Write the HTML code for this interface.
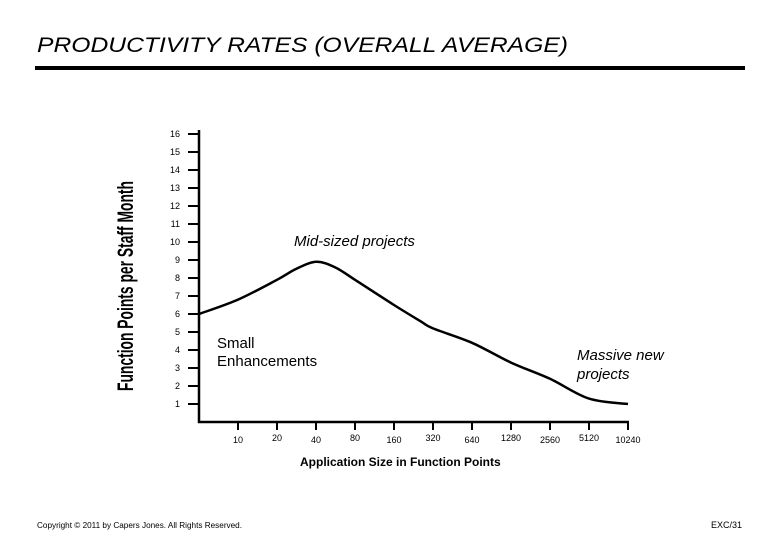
<!DOCTYPE html>
<html><head><meta charset="utf-8"><style>
body{margin:0;background:#fff;}
svg{display:block;font-family:"Liberation Sans",Arial,sans-serif;}
</style></head><body>
<svg width="780" height="540" viewBox="0 0 780 540">
<text x="37" y="52" font-size="21" font-style="italic" textLength="531" lengthAdjust="spacingAndGlyphs">PRODUCTIVITY RATES (OVERALL AVERAGE)</text>
<rect x="35" y="66" width="710" height="4" fill="#000"/>
<text transform="translate(133,286) rotate(-90)" text-anchor="middle" font-size="22" font-weight="bold" textLength="210" lengthAdjust="spacingAndGlyphs">Function Points per Staff Month</text>
<g id="axes"></g>
<g id="ticks"></g>
<path id="curve" fill="none" stroke="#000" stroke-width="2.5"/>
<text x="294" y="246" font-size="15" font-style="italic">Mid-sized projects</text>
<text x="217" y="348" font-size="15">Small</text>
<text x="217" y="366" font-size="15">Enhancements</text>
<text x="577" y="360" font-size="15" font-style="italic">Massive new</text>
<text x="577" y="379" font-size="15" font-style="italic">projects</text>
<text x="300" y="466" font-size="12" font-weight="bold">Application Size in Function Points</text>
<text x="37" y="528" font-size="8" textLength="205" lengthAdjust="spacingAndGlyphs">Copyright © 2011 by Capers Jones.  All Rights Reserved.</text>
<text x="742" y="528" font-size="9" text-anchor="end">EXC/31</text>
</svg>
<script>
const yTicks=[1,2,3,4,5,6,7,8,9,10,11,12,13,14,15,16];
const xLabels=["10","20","40","80","160","320","640","1280","2560","5120","10240"];
const sizes=[5,10,20,28,40,56,80,160,256,320,640,1280,2560,5120,10240];
const rates=[6.0,6.8,7.9,8.5,8.9,8.6,7.9,6.5,5.6,5.2,4.4,3.3,2.4,1.3,1.0];
const NS='http://www.w3.org/2000/svg';
const X0=199,STEP=39,YB=404,YS=18;
function xs(s){return X0+Math.log2(s/5)*STEP;}
function ys(v){return YB-(v-1)*YS;}
function mk(tag,attrs,parent,txt){const e=document.createElementNS(NS,tag);for(const k in attrs)e.setAttribute(k,attrs[k]);if(txt!==undefined)e.textContent=txt;parent.appendChild(e);return e;}
const ax=document.getElementById('axes'),tk=document.getElementById('ticks');
const yl=mk('line',{x1:X0,y1:130,x2:X0,y2:423,stroke:'#000','stroke-width':2.5},ax);


const xl=mk('line',{x1:X0-1,y1:422,x2:629,y2:422,stroke:'#000','stroke-width':2.5},ax);


yTicks.forEach(v=>{
 const l=mk('line',{x1:188,y1:ys(v),x2:X0,y2:ys(v),stroke:'#000','stroke-width':2},tk);
 
 
 const t=mk('text',{x:180,y:ys(v)+3,'font-size':9,'text-anchor':'end'},tk,String(v));
 
 
});
xLabels.forEach((lab,i)=>{
 const x=xs(+lab);
 const l=mk('line',{x1:x,y1:422,x2:x,y2:430,stroke:'#000','stroke-width':2},tk);
 
 
 const t=mk('text',{x:x,y:443+(i%2?-2:0),'font-size':9,'text-anchor':'middle'},tk,lab);
 
 
});
const pts=sizes.map((s,i)=>[xs(s),ys(rates[i])]);
let d='M'+pts[0][0]+','+pts[0][1];
for(let i=0;i<pts.length-1;i++){
 const p0=pts[i-1]||pts[i],p1=pts[i],p2=pts[i+1],p3=pts[i+2]||p2;
 const c1=[p1[0]+(p2[0]-p0[0])/6,p1[1]+(p2[1]-p0[1])/6];
 const c2=[p2[0]-(p3[0]-p1[0])/6,p2[1]-(p3[1]-p1[1])/6];
 d+=' C'+c1+' '+c2+' '+p2;
}
document.getElementById('curve').setAttribute('d',d);
</script>
</body></html>
